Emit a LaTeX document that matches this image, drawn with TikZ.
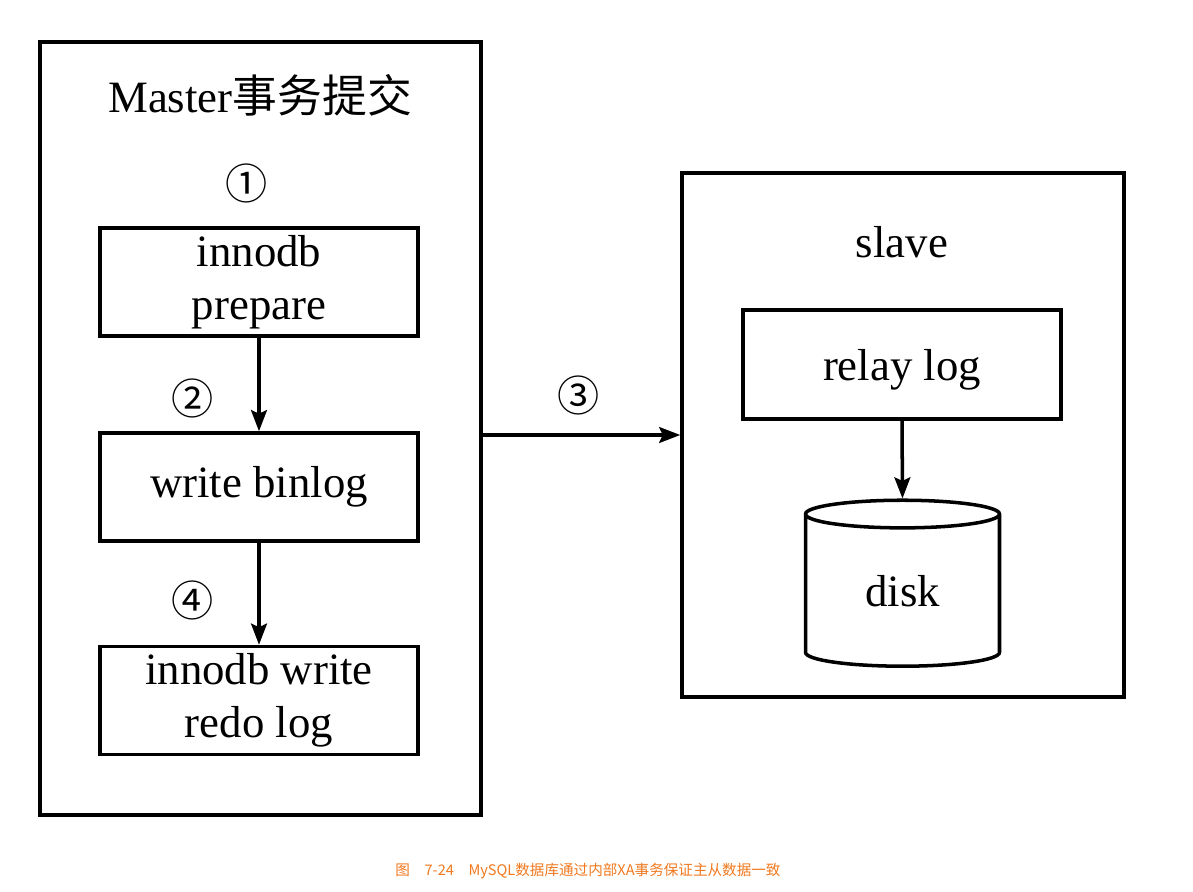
\documentclass[tikz,border=0pt]{standalone}
\usepackage{fontspec}
\setmainfont{Liberation Serif}
\newfontfamily\cjk{Noto Sans CJK SC}
\usetikzlibrary{arrows.meta,shapes.geometric}
\definecolor{captionorange}{RGB}{240,120,30}
\tikzset{
  stage/.style={draw, line width=2pt, minimum width=6.36cm, minimum height=2.16cm, align=center, inner sep=0pt},
  frame/.style={draw, line width=2pt, inner sep=0pt},
  flow/.style={line width=2pt, -{Stealth[length=12pt,width=9pt,inset=2pt]}},
  num/.style={font=\cjk\fontsize{24}{24}\selectfont},
}
\begin{document}
\begin{tikzpicture}[x=0.02cm,y=-0.02cm,font=\fontsize{25.5}{30}\selectfont]
    \useasboundingbox (0,0) rectangle (1193,892);
    % master side
    \node [frame, minimum width=8.82cm, minimum height=15.46cm] (master) at (260.5,428.5) {};
    \node (mtitle) at (260,95) {Master{\cjk 事务提交}};
    \node [stage] (prepare) at (259,282) {innodb\\prepare};
    \node [stage] (binlog) at (259,487) {write binlog};
    \node [stage] (redo) at (259,700.5) {innodb write\\redo log};
    \node [num] (n1) at (247,183) {①};
    \node [num] (n2) at (193,398) {②};
    \node [num] (n4) at (193,600) {④};
    \draw [flow] (prepare.south) -- (binlog.north);
    \draw [flow] (binlog.south) -- (redo.north);
    % slave side
    \node [frame, minimum width=8.84cm, minimum height=10.48cm] (slave) at (903,435) {};
    \node (stitle) at (902,242) {slave};
    \node [stage, minimum height=2.18cm, text depth=0pt] (relay) at (902,364.5) {relay log};
    \node [draw, line width=2pt, cylinder, shape border rotate=90, aspect=0.37,
           minimum width=3.88cm, minimum height=3.32cm, inner sep=0pt] (disk) at (902.5,591) {disk};
    \draw [flow] (relay.south) -- (disk.north);
    % binlog to slave
    \draw [flow] (slave.west -| master.east) -- (slave.west);
    \node [num] (n3) at (579,395) {③};
    % caption
    \node [font=\cjk\fontsize{8.3}{10}\selectfont, text=captionorange] (caption) at (588,871)
        {图\hspace{1em}7-24\hspace{1em}MySQL数据库通过内部XA事务保证主从数据一致};
\end{tikzpicture}
\end{document}
